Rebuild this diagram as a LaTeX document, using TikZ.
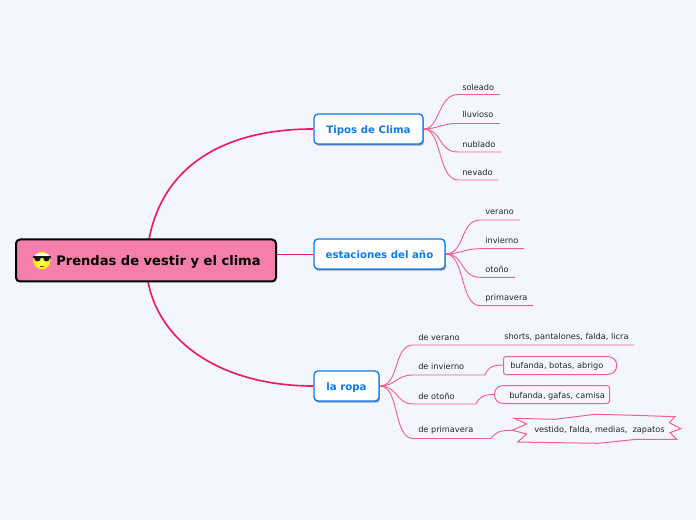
\documentclass[tikz,border=0pt]{standalone}
\usepackage{fontspec}
\setmainfont{DejaVu Sans}
\usetikzlibrary{shadows,calc}
\definecolor{bgc}{HTML}{F3F6FF}
\definecolor{mainfill}{HTML}{F57FAA}
\definecolor{trunk}{HTML}{E91E63}
\definecolor{twig}{HTML}{F2608F}
\definecolor{topicblue}{HTML}{0B7BE6}
\tikzset{
  px/.style={x=0.75pt,y=-0.75pt},
  mainbox/.style={draw=black,line width=1.5pt,fill=mainfill,rounded corners=3pt,inner sep=0pt},
  titletext/.style={inner sep=0pt,anchor=west,text=black,font=\fontsize{9.8pt}{12pt}\selectfont\bfseries},
  topic/.style={draw=topicblue,line width=1pt,fill=white,rounded corners=3pt,inner sep=0pt,text=topicblue,text height=7.6pt,text depth=1.4pt,font=\fontsize{7.65pt}{10pt}\selectfont\bfseries,
    drop shadow={shadow xshift=0.7pt,shadow yshift=-1.3pt,fill=black!70!blue,opacity=.4}},
  leaf/.style={anchor=west,inner sep=0pt,yshift=-0.5pt,text=black!85,font=\fontsize{6.15pt}{8pt}\selectfont},
  trunkline/.style={draw=trunk,line width=1.25pt},
  branchline/.style={draw=trunk,line width=.7pt},
  twigline/.style={draw=twig,line width=.7pt},
  boxline/.style={draw=twig,line width=.75pt,fill=bgc},
}
\begin{document}
\begin{tikzpicture}[px]
\useasboundingbox (0,0) rectangle (696,520);
\fill[bgc] (0,0) rectangle (696,520);

% named coordinates
\coordinate (mtop) at (149,239.5);
\coordinate (mbot) at (148,281.5);
\coordinate (mright) at (276,254);

% boxes
\node[topic,minimum width=81.75pt,minimum height=22.5pt] (tipos) at (368.5,129) {Tipos de Clima};
\node[topic,minimum width=98.25pt,minimum height=22.5pt] (estac) at (379.5,254) {estaciones del año};
\node[topic,minimum width=48.75pt,minimum height=22.5pt] (ropa) at (346.5,386) {la ropa};

% main branches
\draw[trunkline] (mtop) .. controls (163,165) and (225,129) .. (tipos.west);
\draw[branchline] (mright) -- (estac.west);
\draw[trunkline] (mbot) .. controls (160,345) and (225,386) .. (ropa.west);

% leaf texts
\node[leaf] (soleado) at (462,86.5) {soleado};
\node[leaf] (lluvioso) at (462,114) {lluvioso};
\node[leaf] (nublado) at (462,143.5) {nublado};
\node[leaf] (nevado) at (462,171.5) {nevado};
\node[leaf] (verano) at (485,211.5) {verano};
\node[leaf] (invierno) at (485,239.5) {invierno};
\node[leaf] (otono) at (485,268.5) {otoño};
\node[leaf] (primavera) at (485,297.5) {primavera};
\node[leaf] (dverano) at (418,336.5) {de verano};
\node[leaf] (dinvierno) at (418,365.5) {de invierno};
\node[leaf] (dotono) at (418,395.5) {de otoño};
\node[leaf] (dprimavera) at (418,429.5) {de primavera};
\node[leaf] (shorts) at (504,336.5) {shorts, pantalones, falda, licra};

% underline end points
\coordinate (e1) at (500,94.5);
\coordinate (e2) at (500,123.5);
\coordinate (e3) at (501,152);
\coordinate (e4) at (498,180);
\coordinate (e5) at (520,220);
\coordinate (e6) at (524,248.7);
\coordinate (e7) at (515,277.3);
\coordinate (e8) at (533,305.7);
\coordinate (e9) at (634,345);
\coordinate (e10) at (485,375);
\coordinate (e11) at (476,404);
\coordinate (e12) at (491,438.5);

% twigs: Tipos de Clima
\draw[twigline] (tipos.east) .. controls (440,129) and (438,94.5) .. (458,94.5) -- (e1);
\draw[twigline] (tipos.east) .. controls (437,129) and (442,123.5) .. (458,123.5) -- (e2);
\draw[twigline] (tipos.east) .. controls (442,129) and (438,152) .. (458,152) -- (e3);
\draw[twigline] (tipos.east) .. controls (442,129) and (438,180) .. (458,180) -- (e4);
% twigs: estaciones
\draw[twigline] (estac.east) .. controls (465,254) and (460,220) .. (480,220) -- (e5);
\draw[twigline] (estac.east) .. controls (460,254) and (465,248.7) .. (480,248.7) -- (e6);
\draw[twigline] (estac.east) .. controls (465,254) and (460,277.3) .. (480,277.3) -- (e7);
\draw[twigline] (estac.east) .. controls (465,254) and (460,305.7) .. (480,305.7) -- (e8);
% twigs: la ropa
\draw[twigline] (ropa.east) .. controls (400,386) and (393,345) .. (413,345) -- (e9);
\draw[twigline] (ropa.east) .. controls (396,386) and (396,375) .. (413,375) -- (e10);
\draw[twigline] (ropa.east) .. controls (398,386) and (396,404) .. (413,404) -- (e11);
\draw[twigline] (ropa.east) .. controls (400,386) and (393,438.5) .. (413,438.5) -- (e12);

% outlined boxes
\path[boxline] (506,356.5) -- (607,356.5)
  .. controls (613,356.5) and (616.7,360) .. (616.7,365.5)
  .. controls (616.7,371) and (613,374.5) .. (607,374.5)
  -- (506,374.5) .. controls (504.5,374.5) and (503.5,373.5) .. (503.5,372)
  -- (503.5,359) .. controls (503.5,357.5) and (504.5,356.5) .. (506,356.5) -- cycle;
\node[leaf] (botas) at (510,365.5) {bufanda, botas, abrigo};
\coordinate (b1) at (503.5,365);
\draw[twigline] (e10) .. controls (488,368) and (491,365) .. (b1);

\path[boxline] (504,385.5) -- (606.5,385.5) .. controls (608.5,385.5) and (609.5,386.5) .. (609.5,388.5)
  -- (609.5,400.5) .. controls (609.5,402.5) and (608.5,403.5) .. (606.5,403.5) -- (504,403.5)
  .. controls (498,403.5) and (494.5,400) .. (494.5,394.5)
  .. controls (494.5,389) and (498,385.5) .. (504,385.5) -- cycle;
\node[leaf] (gafas) at (509,395.5) {bufanda, gafas, camisa};
\coordinate (b2) at (494.5,394.5);
\draw[twigline] (e11) .. controls (479,398) and (482,394.5) .. (b2);

\path[boxline] (514.3,418.3) -- (555,419.3) -- (595,414.3) -- (635,415.3) -- (675,416.7) -- (669.3,422.7) -- (681,428.7) -- (670,432.7) -- (676.7,439.3) -- (636.7,439.3) -- (598.3,443.3) -- (558.3,442.7) -- (517.7,442) -- (526.7,434) -- (512.3,430.3) -- (526.7,424) -- cycle;
\node[leaf] (vestido) at (534,429.5) {vestido, falda, medias,\ \ zapatos};
\coordinate (b3) at (512.3,430.3);
\draw[twigline] (e12) .. controls (495,434) and (497,430) .. (b3);

% central node
\node[mainbox,minimum width=195pt,minimum height=31.5pt] (main) at (146,260.5) {};
\node[titletext] (title) at (56,262.2) {Prendas de vestir y el clima};

% sunglasses emoji
\shade[inner color=yellow!60!white,outer color=yellow!85!orange] (42,260.5) circle[radius=8.8];
\fill[white!92!yellow] (34.5,256) .. controls (36,252) and (48,252) .. (49.5,256) -- cycle;
\fill[black!90] (33,256) rectangle (51,258);
\fill[black!90] (34,257) .. controls (34,263) and (41,263) .. (41,257) -- cycle;
\fill[black!90] (43,257) .. controls (43,263) and (50,263) .. (50,257) -- cycle;
\draw[black!70,line width=.3pt] (40,266) -- (44,266);
\end{tikzpicture}
\end{document}
